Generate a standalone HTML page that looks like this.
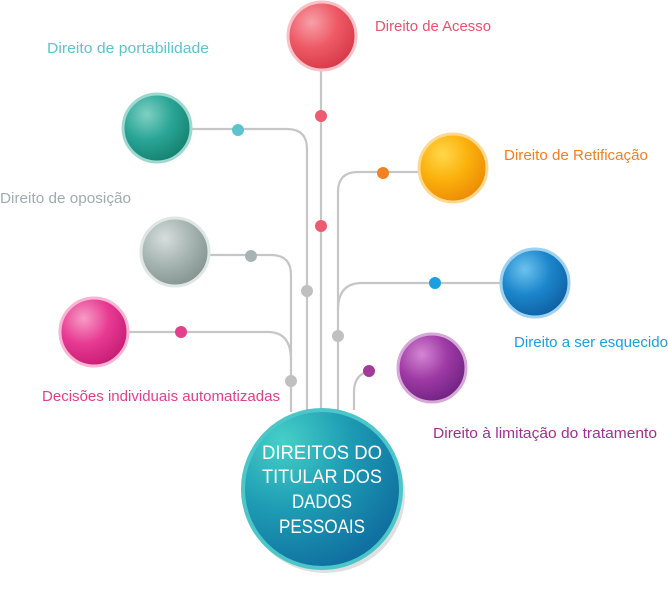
<!DOCTYPE html>
<html><head><meta charset="utf-8"><style>
body{margin:0;background:#fff;width:668px;height:600px;overflow:hidden}
svg{display:block}
text{font-family:"Liberation Sans",sans-serif}
</style></head><body>
<svg width="668" height="600" viewBox="0 0 668 600" xmlns="http://www.w3.org/2000/svg">
<defs>
<radialGradient id="gr" cx="35%" cy="30%" r="75%"><stop offset="0" stop-color="#f7a0a8"/><stop offset="0.5" stop-color="#ee5a66"/><stop offset="1" stop-color="#d63848"/></radialGradient>
<radialGradient id="gt" cx="35%" cy="30%" r="75%"><stop offset="0" stop-color="#7fd0c4"/><stop offset="0.5" stop-color="#2aa696"/><stop offset="1" stop-color="#14806f"/></radialGradient>
<radialGradient id="gg" cx="35%" cy="30%" r="75%"><stop offset="0" stop-color="#d6dedd"/><stop offset="0.5" stop-color="#a8b6b4"/><stop offset="1" stop-color="#83938f"/></radialGradient>
<radialGradient id="gp" cx="35%" cy="30%" r="75%"><stop offset="0" stop-color="#f69cc6"/><stop offset="0.5" stop-color="#e83a92"/><stop offset="1" stop-color="#c51c74"/></radialGradient>
<radialGradient id="go" cx="35%" cy="30%" r="75%"><stop offset="0" stop-color="#ffd84a"/><stop offset="0.5" stop-color="#fbb10c"/><stop offset="1" stop-color="#ec8a06"/></radialGradient>
<radialGradient id="gb" cx="35%" cy="30%" r="75%"><stop offset="0" stop-color="#6cc2ee"/><stop offset="0.5" stop-color="#1c86cc"/><stop offset="1" stop-color="#0f5fa0"/></radialGradient>
<radialGradient id="gv" cx="35%" cy="30%" r="75%"><stop offset="0" stop-color="#d486d4"/><stop offset="0.5" stop-color="#9e3aa4"/><stop offset="1" stop-color="#6f2282"/></radialGradient>
<radialGradient id="gc" cx="25%" cy="20%" r="85%"><stop offset="0" stop-color="#46d0c8"/><stop offset="0.5" stop-color="#1e9cb4"/><stop offset="1" stop-color="#1070a0"/></radialGradient>
</defs>
<g fill="none" stroke="#c6c6c6" stroke-width="2.2">
<path d="M321 70 V412"/>
<path d="M191 129 H287 Q307 129 307 149 V412"/>
<path d="M209 255 H271 Q291 255 291 275 V412"/>
<path d="M128 332 H268 Q291 332 291 360"/>
<path d="M420 172 H358 Q338 172 338 192 V412"/>
<path d="M500 283 H362 Q338 283 338 310"/>
<path d="M369 371 Q354 375 354 392 V410"/>
</g>
<g>
<circle cx="321" cy="116" r="6" fill="#ee5a70"/>
<circle cx="321" cy="226" r="6" fill="#ee5a70"/>
<circle cx="238" cy="130" r="6" fill="#5bc4cc"/>
<circle cx="251" cy="256" r="6" fill="#a8b4b2"/>
<circle cx="181" cy="332" r="6" fill="#e3408c"/>
<circle cx="307" cy="291" r="6" fill="#c0c0c0"/>
<circle cx="291" cy="381" r="6" fill="#c0c0c0"/>
<circle cx="383" cy="173" r="6" fill="#f48020"/>
<circle cx="435" cy="283" r="6" fill="#1aa0e0"/>
<circle cx="338" cy="336" r="6" fill="#c0c0c0"/>
<circle cx="369" cy="371" r="6" fill="#a43a98"/>
</g>
<g stroke="#e8e8e8" stroke-width="3">
<circle cx="322" cy="36" r="34" fill="url(#gr)" stroke="#f7c2c8"/>
<circle cx="157" cy="128" r="34" fill="url(#gt)" stroke="#9ed8cf"/>
<circle cx="175" cy="252" r="34" fill="url(#gg)" stroke="#e0e6e5"/>
<circle cx="94" cy="332" r="34" fill="url(#gp)" stroke="#f7b6d4"/>
<circle cx="453" cy="168" r="34" fill="url(#go)" stroke="#ffd890"/>
<circle cx="535" cy="283" r="34" fill="url(#gb)" stroke="#9fd2f0"/>
<circle cx="432" cy="368" r="34" fill="url(#gv)" stroke="#d6a8d8"/>
</g>
<ellipse cx="325" cy="495" rx="80" ry="78" fill="#000" opacity="0.12"/>
<circle cx="322" cy="489" r="79" fill="url(#gc)" stroke="#4cc6c8" stroke-width="4"/>
<g fill="#fff" font-size="19" text-anchor="middle">
<text x="322" y="459" textLength="120" lengthAdjust="spacingAndGlyphs">DIREITOS DO</text>
<text x="322" y="483" textLength="120" lengthAdjust="spacingAndGlyphs">TITULAR DOS</text>
<text x="322" y="508" textLength="60" lengthAdjust="spacingAndGlyphs">DADOS</text>
<text x="322" y="533" textLength="86" lengthAdjust="spacingAndGlyphs">PESSOAIS</text>
</g>
<g font-size="14.5">
<text x="375" y="31" fill="#e8516a" textLength="116" lengthAdjust="spacingAndGlyphs">Direito de Acesso</text>
<text x="47" y="53" fill="#5bc4cc" textLength="162" lengthAdjust="spacingAndGlyphs">Direito de portabilidade</text>
<text x="0" y="203" fill="#a0acac" textLength="131" lengthAdjust="spacingAndGlyphs">Direito de oposição</text>
<text x="504" y="160" fill="#f07f1f" textLength="144" lengthAdjust="spacingAndGlyphs">Direito de Retificação</text>
<text x="514" y="347" fill="#1aa0e0" textLength="154" lengthAdjust="spacingAndGlyphs">Direito a ser esquecido</text>
<text x="42" y="401" fill="#e0408a" textLength="238" lengthAdjust="spacingAndGlyphs">Decisões individuais automatizadas</text>
<text x="433" y="438" fill="#a03090" textLength="224" lengthAdjust="spacingAndGlyphs">Direito à limitação do tratamento</text>
</g>
</svg>
</body></html>
